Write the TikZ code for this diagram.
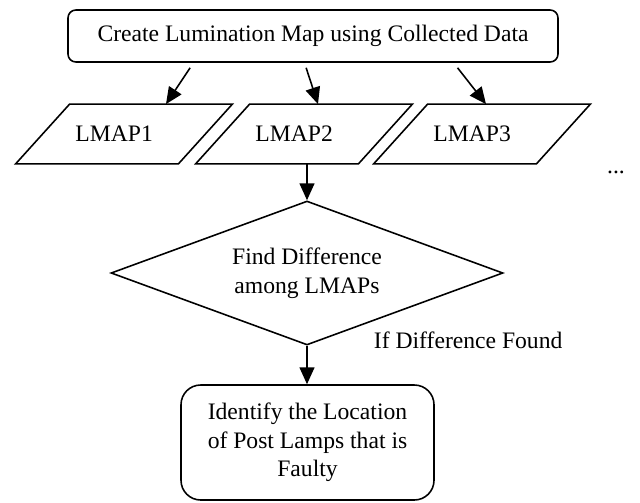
\documentclass[tikz,border=0pt]{standalone}
\usepackage{fontspec}
\setmainfont{Liberation Serif}
\usepackage{tikz}
\usetikzlibrary{arrows.meta,shapes.geometric,calc}

\def\pxu{0.508pt}
\tikzset{
  box/.style={draw, line width=0.8pt, align=center, inner sep=0pt},
  lmap/.style={minimum width=162*\pxu, minimum height=59*\pxu, inner sep=0pt},
  arr/.style={line width=0.8pt, -{Triangle[length=8.5pt,width=7.5pt]}}
}

\begin{document}
\begin{tikzpicture}[x=\pxu, y=-\pxu, font=\fontsize{12}{14.5}\selectfont]
\useasboundingbox (0,0) rectangle (640,502);
\node[box, rounded corners=4pt, minimum width=490*\pxu, minimum height=52*\pxu]
  (title) at (313,36) {Create Lumination Map using Collected Data};
\node[lmap] (lmap1) at (124,134) {LMAP1\hspace*{10pt}};
\node[lmap] (lmap2) at (304,134) {LMAP2\hspace*{10pt}};
\node[lmap] (lmap3) at (482,134) {LMAP3\hspace*{10pt}};
\foreach \i in {1,2,3}
  \draw[line width=0.8pt] ($(lmap\i.south west)+(-27,0)$) -- ($(lmap\i.south east)+(-27,0)$)
    -- ($(lmap\i.north east)+(27,0)$) -- ($(lmap\i.north west)+(27,0)$) -- cycle;
\node (dots) at (616,172) {...};
\node[box, diamond, shape aspect=2.7, minimum width=392*\pxu, minimum height=144*\pxu]
  (dia) at (307,273) {Find Difference\\among LMAPs};
\node[anchor=west] (ifdiff) at (367,340) {If Difference Found};
\node[box, rounded corners=10pt, minimum width=253*\pxu, minimum height=115*\pxu]
  (fault) at (307.5,442.5) {Identify the Location\\of Post Lamps that is\\Faulty};
\draw[arr] ($(title.south west)!0.25!(title.south east)+(0,5)$)
  -- ($(lmap1.north)+(42,0)$);
\draw[arr] ($(title.south west)!0.486!(title.south east)+(0,5)$)
  -- ($(lmap2.north)+(14,0)$);
\draw[arr] ($(title.south west)!0.794!(title.south east)+(0,5)$)
  -- ($(lmap3.north)+(4,0)$);
\draw[arr] (dia.north |- lmap2.south) -- (dia.north);
\draw[arr] (dia.south) -- (dia.south |- fault.north);
\end{tikzpicture}
\end{document}
